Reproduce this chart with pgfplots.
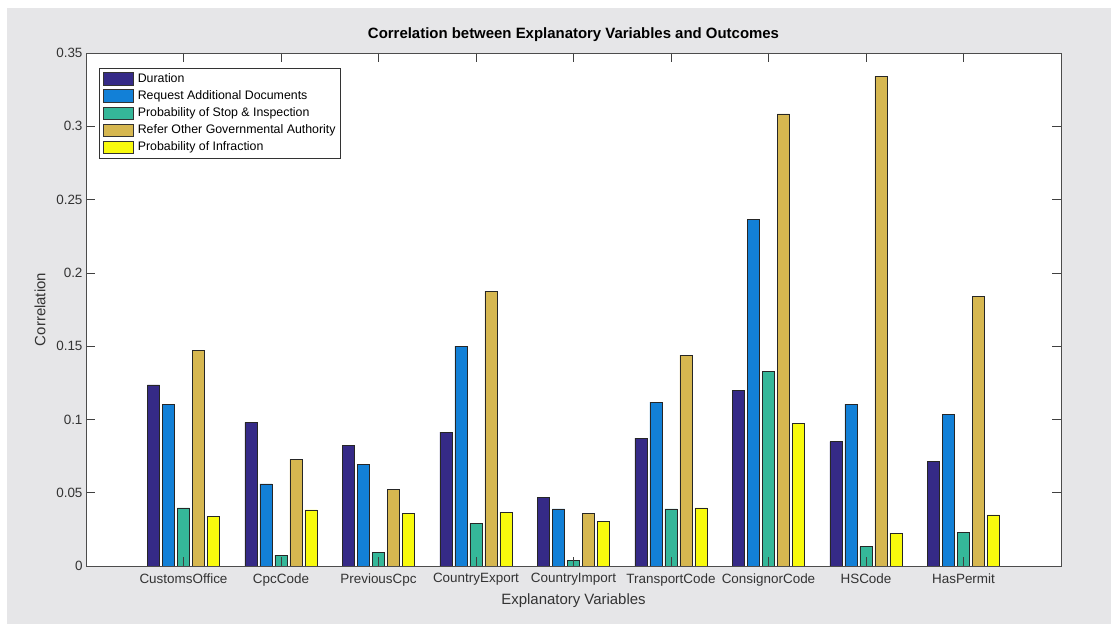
\documentclass[border=0pt]{standalone}
\usepackage{pgfplots}
\usepackage{pgfplotstable}
\pgfplotsset{compat=1.18}
\usepackage{fontspec}
\setmainfont{Liberation Sans}
\definecolor{bg}{RGB}{230,230,232}
\definecolor{cA}{RGB}{53,42,135}
\definecolor{cB}{RGB}{18,128,215}
\definecolor{cC}{RGB}{53,183,153}
\definecolor{cD}{RGB}{214,183,80}
\definecolor{cE}{RGB}{248,250,13}

\pgfplotstableread{
x dur req stop refer infr
1 0.1235 0.1105 0.0396 0.1473 0.0340
2 0.0980 0.0560 0.0075 0.0727 0.0383
3 0.0825 0.0695 0.0095 0.0525 0.0358
4 0.0913 0.1500 0.0290 0.1876 0.0367
5 0.0470 0.0389 0.0040 0.0360 0.0307
6 0.0873 0.1118 0.0389 0.1439 0.0396
7 0.1200 0.2367 0.1330 0.3085 0.0975
8 0.0849 0.1105 0.0132 0.3340 0.0225
9 0.0713 0.1037 0.0229 0.1838 0.0348
}\data

\pgfplotsset{
  mybar/.style={ybar, bar width=0.126, draw=black!85, line width=0.6bp,
    legend image code/.code={\draw[##1,line width=0.6bp,draw=black!80] (0bp,-6bp) rectangle (30bp,6.5bp);}},
}

\begin{document}
\begin{tikzpicture}
\path[use as bounding box] (0bp,0bp) rectangle (1112bp,624bp);
\fill[white] (0bp,0bp) rectangle (1112bp,624bp);
\fill[bg] (7bp,0bp) rectangle (1111bp,616bp);
\begin{axis}[
  at={(86bp,58bp)}, anchor=south west,
  width=975bp, height=513bp, scale only axis,
  xmin=0, xmax=10, ymin=0, ymax=0.35,
  axis background/.style={fill=white},
  axis on top,
  axis line style={black!70, line width=0.8bp},
  tick style={black!75, line width=0.6bp},
  tick align=inside,
  major tick length=9bp,
  xtick={1,2,3,4,5,6,7,8,9},
  xticklabels={CustomsOffice,CpcCode,PreviousCpc,CountryExport,CountryImport,TransportCode,ConsignorCode,HSCode,HasPermit},
  ytick={0,0.05,0.1,0.15,0.2,0.25,0.3,0.35},
  yticklabels={0,0.05,0.1,0.15,0.2,0.25,0.3,0.35},
  ticklabel style={font=\fontsize{13.5}{16}\selectfont, text=black!80},
  xticklabel style={yshift=-4bp},
  title={\textbf{Correlation between Explanatory Variables and Outcomes}},
  title style={at={(axis description cs:0.5,1.0234)}, anchor=center, font=\fontsize{15}{18}\selectfont},
  xlabel={Explanatory Variables},
  ylabel={Correlation},
  xlabel style={at={(axis description cs:0.5,-0.0682)}, anchor=center, font=\fontsize{15}{18}\selectfont, text=black!80},
  ylabel style={at={(axis description cs:-0.0472,0.5)}, anchor=center, font=\fontsize{15}{18}\selectfont, text=black!80},
  legend cell align=left,
  legend style={at={(0,1)}, anchor=north west, xshift=13bp, yshift=-15bp,
    font=\fontsize{12.4}{14}\selectfont, draw=black!80, fill=white,
    inner sep=3.5bp, row sep=2.7bp,
    /tikz/every odd column/.append style={column sep=3.5bp},
    nodes={inner sep=1bp, text height=9.5bp, text depth=3bp}},
]
\addplot[mybar, bar shift=-0.308, fill=cA] table[x=x,y=dur]{\data};
\addlegendentry{Duration}
\addplot[mybar, bar shift=-0.154, fill=cB] table[x=x,y=req]{\data};
\addlegendentry{Request Additional Documents}
\addplot[mybar, bar shift=0, fill=cC] table[x=x,y=stop]{\data};
\addlegendentry{Probability of Stop \& Inspection}
\addplot[mybar, bar shift=0.154, fill=cD] table[x=x,y=refer]{\data};
\addlegendentry{Refer Other Governmental Authority}
\addplot[mybar, bar shift=0.308, fill=cE] table[x=x,y=infr]{\data};
\addlegendentry{Probability of Infraction}
\end{axis}
\end{tikzpicture}
\end{document}
